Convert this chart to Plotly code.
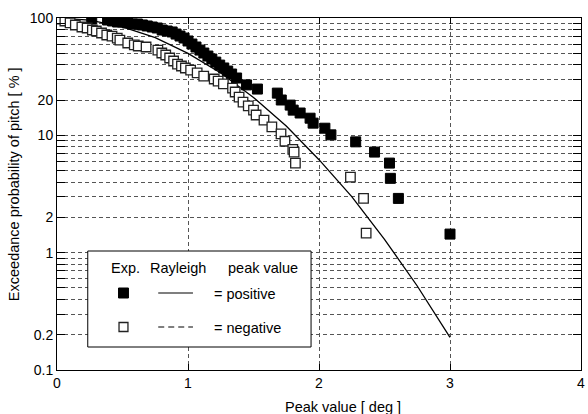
import plotly.graph_objects as go

# ---- data ----
pos_x = [0.265, 0.386, 0.424, 0.462, 0.50, 0.538, 0.576, 0.614, 0.652, 0.689, 0.727, 0.765,
         0.803, 0.841, 0.879, 0.909, 0.939, 0.970, 1.00, 1.03, 1.061, 1.091, 1.121, 1.152,
         1.182, 1.212, 1.242, 1.273, 1.303, 1.333, 1.371, 1.447, 1.530, 1.682, 1.712, 1.780,
         1.803, 1.856, 1.932, 1.955, 2.045, 2.091, 2.280, 2.424, 2.538, 2.545, 2.606, 3.0]
pos_p = [98, 96.1, 94.3, 92.4, 92.4, 90.7, 88.9, 88.9, 87.2, 85.5, 83.8, 82.2,
         79.0, 77.5, 76.0, 73.0, 70.2, 67.5, 63.7, 60.0, 56.6, 53.3, 50.3, 47.4,
         44.7, 42.1, 39.7, 37.5, 35.3, 33.3, 30.8, 26.9, 24.8, 22.9, 20.0, 18.1,
         16.4, 15.5, 14.0, 12.7, 11.5, 10.1, 8.8, 7.2, 5.8, 4.3, 2.9, 1.44]

neg_x = [0.015, 0.06, 0.10, 0.14, 0.19, 0.23, 0.27, 0.30, 0.34, 0.38, 0.42, 0.46, 0.48,
         0.54, 0.59, 0.62, 0.68, 0.77, 0.80, 0.83, 0.86, 0.89, 0.92, 0.95, 0.98, 1.02,
         1.07, 1.12, 1.20, 1.23, 1.27, 1.34, 1.36, 1.39, 1.42, 1.46, 1.50, 1.52, 1.58,
         1.64, 1.71, 1.74, 1.80, 1.81, 1.82, 2.24, 2.34, 2.36]
neg_p = [98, 94.3, 90.7, 87.2, 83.8, 82.2, 79.0, 77.5, 74.5, 71.6, 70.2, 67.5, 64.9,
         61.2, 58.9, 57.7, 56.6, 53.3, 50.3, 48.4, 45.6, 43.0, 40.5, 39.0, 37.5, 36.0,
         34.0, 32.0, 30.2, 29.0, 27.4, 25.3, 23.4, 21.2, 19.2, 17.8, 16.4, 14.9, 13.5,
         11.8, 10.3, 8.9, 7.6, 7.2, 5.8, 4.4, 2.9, 1.47]

ray_x = [0, 0.25, 0.5, 0.75, 1.0, 1.25, 1.5, 1.75, 2.0, 2.25, 2.5, 2.75, 3.0]
ray_p = [100, 95.8, 84, 68, 50, 34, 21, 12, 6.2, 3.0, 1.3, 0.52, 0.19]

x_ticks = [0, 1, 2, 3, 4]
y_ticks = [0.1, 0.2, 1, 2, 10, 20, 100]
y_tick_text = ["0.1", "0.2", "1", "2", "10", "20", "100"]
y_minor = [0.3, 0.4, 0.5, 0.6, 0.7, 0.8, 0.9,
           3, 4, 5, 6, 7, 8, 9,
           30, 40, 50, 60, 70, 80, 90]

FONT = "Liberation Sans, Arial, sans-serif"
GRID = dict(showgrid=True, gridcolor="#555555", griddash="4px,3px", gridwidth=1)

fig = go.Figure()
fig.add_trace(go.Scatter(x=ray_x, y=ray_p, mode="lines",
                         line=dict(color="black", width=1.3), hoverinfo="skip"))
fig.add_trace(go.Scatter(x=pos_x, y=pos_p, mode="markers",
                         marker=dict(symbol="square", size=10, color="black",
                                     line=dict(color="black", width=1))))
fig.add_trace(go.Scatter(x=neg_x, y=neg_p, mode="markers",
                         marker=dict(symbol="square", size=9.5, color="white",
                                     line=dict(color="#222222", width=1.3))))

fig.update_layout(
    width=588, height=414,
    margin=dict(l=57, r=3, t=18, b=44),
    paper_bgcolor="white", plot_bgcolor="white",
    showlegend=False,
    font=dict(family=FONT, size=14, color="black"),
    xaxis=dict(range=[0, 4], tickmode="array", tickvals=x_ticks,
               ticks="inside", ticklen=6, tickcolor="black",
               showline=True, linecolor="black", linewidth=1, mirror="ticks",
               zeroline=False, tickfont=dict(size=14), ticklabeloverflow="allow",
               **GRID),
    yaxis=dict(type="log", range=[-1, 2], tickmode="array",
               tickvals=y_ticks, ticktext=y_tick_text,
               ticks="inside", ticklen=8, tickcolor="black",
               showline=True, linecolor="black", linewidth=1, mirror="ticks",
               zeroline=False, tickfont=dict(size=14), ticklabeloverflow="allow",
               minor=dict(tickmode="array", tickvals=y_minor, ticks="inside",
                          ticklen=8, tickcolor="black", **GRID),
               **GRID),
)

# axis titles
fig.add_annotation(text="Peak value [ deg ]", xref="paper", yref="paper",
                   x=0.545, y=0, yshift=-37, showarrow=False,
                   xanchor="center", yanchor="middle", font=dict(size=14.5))
fig.add_annotation(text="Exceedance probability of pitch [ % ]", xref="paper", yref="paper",
                   x=0, xshift=-43, y=0.528, showarrow=False, textangle=-90,
                   xanchor="center", yanchor="middle", font=dict(size=14.5))

# legend box
def px_x(p):
    return (p - 57) / 528.0

def px_y(p):
    return (370 - p) / 352.0

fig.add_shape(type="rect", xref="paper", yref="paper", layer="above",
              x0=px_x(88), x1=px_x(313), y0=px_y(347), y1=px_y(251),
              fillcolor="white", line=dict(color="black", width=1))
# legend markers
fig.add_shape(type="rect", xref="paper", yref="paper", layer="above",
              x0=px_x(119), x1=px_x(129), y0=px_y(298), y1=px_y(288),
              fillcolor="black", line=dict(color="black", width=1))
fig.add_shape(type="rect", xref="paper", yref="paper", layer="above",
              x0=px_x(119.5), x1=px_x(128.5), y0=px_y(331.5), y1=px_y(322.5),
              fillcolor="white", line=dict(color="#222222", width=1.3))
fig.add_shape(type="line", xref="paper", yref="paper", layer="above",
              x0=px_x(159), x1=px_x(194), y0=px_y(293), y1=px_y(293),
              line=dict(color="black", width=1.2))
fig.add_shape(type="line", xref="paper", yref="paper", layer="above",
              x0=px_x(159), x1=px_x(194), y0=px_y(327), y1=px_y(327),
              line=dict(color="black", width=1.2, dash="6px,4px"))

for txt, xl, yc in [("Exp.", 110, 267.5), ("Rayleigh", 149.5, 267.5), ("peak value", 228.5, 267.5),
                    ("= positive", 214.5, 294), ("= negative", 214.5, 328)]:
    fig.add_annotation(text=txt, xref="paper", yref="paper", x=px_x(xl), y=px_y(yc),
                       showarrow=False, xanchor="left", yanchor="middle",
                       font=dict(size=14.5), borderpad=0)

fig.write_html("out.html")
